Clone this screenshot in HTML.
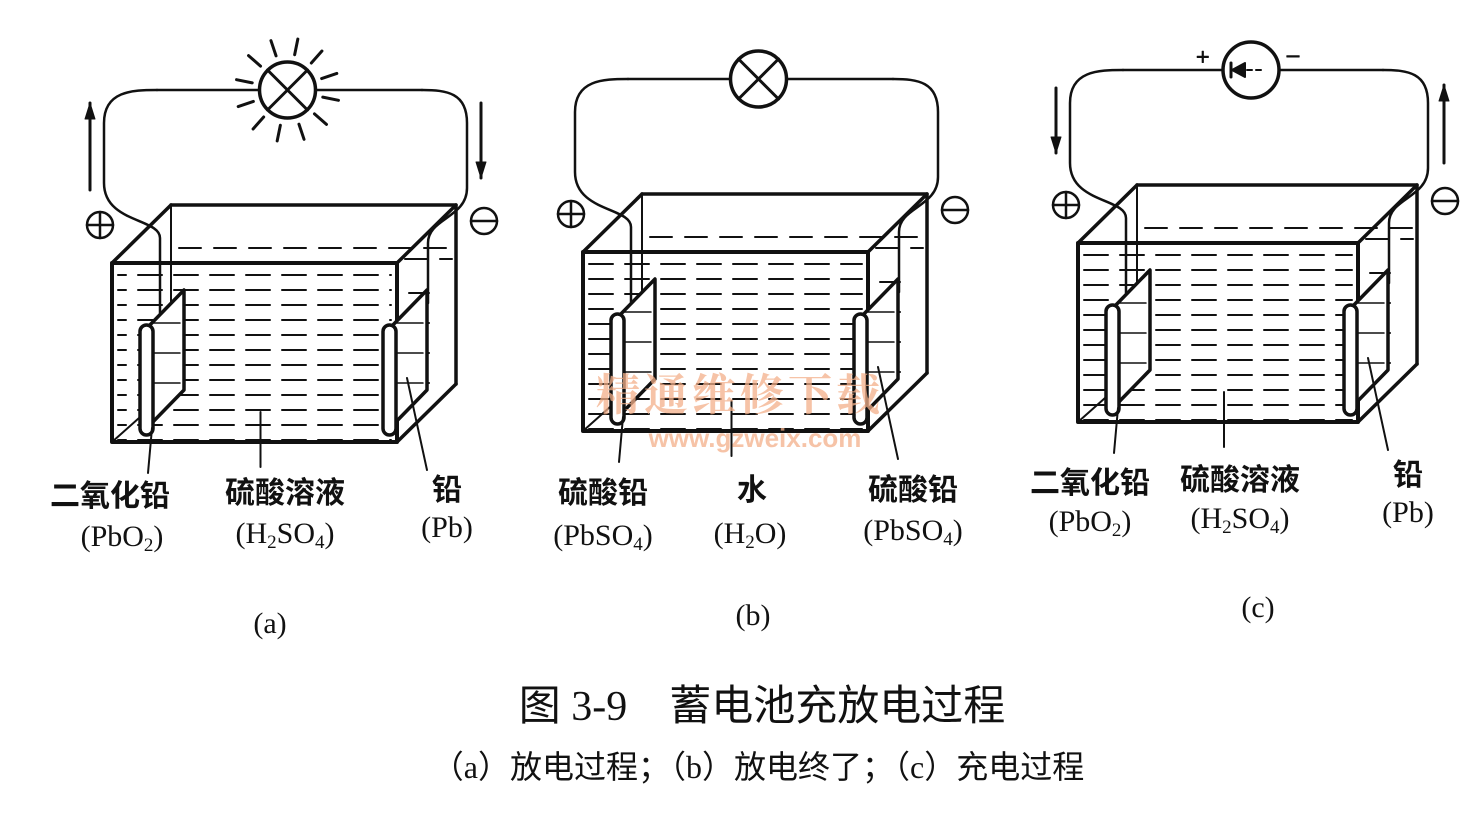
<!DOCTYPE html>
<html><head><meta charset="utf-8"><style>
html,body{margin:0;padding:0;background:#fff;width:1484px;height:824px;overflow:hidden}
svg{display:block}
text{font-family:"Liberation Serif","Noto Serif CJK SC",serif;fill:#111}
.cj{font-family:"Liberation Serif","Noto Sans CJK SC",sans-serif;font-weight:bold}
</style></head><body>
<svg id="s" width="1484" height="824" viewBox="0 0 1484 824" xmlns="http://www.w3.org/2000/svg">
<g id="d" stroke="#111" fill="none" stroke-linecap="round" stroke-linejoin="round"></g>
<text x="740" y="410" text-anchor="middle" style="font-size:44px;fill:#f4b08a;font-family:'Noto Serif CJK SC',serif;font-weight:bold;letter-spacing:4px" opacity="0.75">精通维修下载</text>
<text x="755" y="447" text-anchor="middle" style="font-size:26px;fill:#f4b08a;font-family:'Liberation Sans',sans-serif;font-weight:bold" opacity="0.75">www.gzweix.com</text>

<g font-size="30">
<text x="110" y="506" text-anchor="middle" class="cj">二氧化铅</text>
<text x="122" y="546" text-anchor="middle">(PbO<tspan font-size="19" dy="5">2</tspan><tspan dy="-5">)</tspan></text>
<text x="285" y="503" text-anchor="middle" class="cj">硫酸溶液</text>
<text x="285" y="543" text-anchor="middle">(H<tspan font-size="19" dy="5">2</tspan><tspan dy="-5">SO</tspan><tspan font-size="19" dy="5">4</tspan><tspan dy="-5">)</tspan></text>
<text x="447" y="500" text-anchor="middle" class="cj">铅</text>
<text x="447" y="537" text-anchor="middle">(Pb)</text>

<text x="603" y="503" text-anchor="middle" class="cj">硫酸铅</text>
<text x="603" y="545" text-anchor="middle">(PbSO<tspan font-size="19" dy="5">4</tspan><tspan dy="-5">)</tspan></text>
<text x="752" y="500" text-anchor="middle" class="cj">水</text>
<text x="750" y="543" text-anchor="middle">(H<tspan font-size="19" dy="5">2</tspan><tspan dy="-5">O)</tspan></text>
<text x="913" y="500" text-anchor="middle" class="cj">硫酸铅</text>
<text x="913" y="540" text-anchor="middle">(PbSO<tspan font-size="19" dy="5">4</tspan><tspan dy="-5">)</tspan></text>

<text x="1090" y="493" text-anchor="middle" class="cj">二氧化铅</text>
<text x="1090" y="531" text-anchor="middle">(PbO<tspan font-size="19" dy="5">2</tspan><tspan dy="-5">)</tspan></text>
<text x="1240" y="490" text-anchor="middle" class="cj">硫酸溶液</text>
<text x="1240" y="528" text-anchor="middle">(H<tspan font-size="19" dy="5">2</tspan><tspan dy="-5">SO</tspan><tspan font-size="19" dy="5">4</tspan><tspan dy="-5">)</tspan></text>
<text x="1408" y="485" text-anchor="middle" class="cj">铅</text>
<text x="1408" y="522" text-anchor="middle">(Pb)</text>

<text x="270" y="633" text-anchor="middle">(a)</text>
<text x="753" y="625" text-anchor="middle">(b)</text>
<text x="1258" y="617" text-anchor="middle">(c)</text>
</g>
<text x="762" y="720" text-anchor="middle" font-size="42" class="cj" style="font-weight:normal">图 3-9　蓄电池充放电过程</text>
<text x="758" y="778" text-anchor="middle" font-size="32" class="cj" style="font-weight:normal">（a）放电过程；（b）放电终了；（c）充电过程</text>
</svg>
<script>
var g=document.getElementById('d'),NS='http://www.w3.org/2000/svg';
function el(t,a){var e=document.createElementNS(NS,t);for(var k in a)e.setAttribute(k,a[k]);g.appendChild(e);return e;}
function P(d,w,extra){var a={d:d,'stroke-width':w||3};for(var k in extra)a[k]=extra[k];return el('path',a);}
function cell(ox,oy,W,type){
 var L=ox,T=oy,R=ox+W,B=oy+179,dx=59,dy=-58;
 P('M'+(L+dx)+' '+(T+dy)+'H'+(R+dx)+'V'+(B+dy),3.5);
 P('M'+(L+dx)+' '+(T+dy)+'V'+(T+40),2);
 P('M'+L+' '+T+'L'+(L+dx)+' '+(T+dy),3.5);
 P('M'+R+' '+T+'L'+(R+dx)+' '+(T+dy),3.5);
 P('M'+R+' '+B+'L'+(R+dx)+' '+(B+dy),3.5);
 P('M'+L+' '+B+'L'+(L+45)+' '+(B-40),2);
 P('M'+(L+dx+8)+' '+(T-15)+'H'+(R+dx-4),2,{'stroke-dasharray':'22 13'});
 P('M'+(R+8)+' '+(T-4)+'H'+(R+dx-4),2,{'stroke-dasharray':'22 13'});
 for(var y=T+12;y<B;y+=15){P('M'+(L+6)+' '+y+'H'+(R-6),2,{'stroke-dasharray':'24 12','stroke-dashoffset':(y%3)*8});}
 for(var y=T+30;y<B-30;y+=30){P('M'+(R+12)+' '+y+'H'+(R+dx-14),2,{'stroke-dasharray':'20 14'});}
 el('rect',{x:L,y:T,width:W,height:B-T,'stroke-width':4});
 var lx=L+48,rx=R+31;
 P('M'+lx+' '+(T+50)+'V'+(T-25)+'C'+lx+' '+(T-45)+' '+(L-8)+' '+(T-40)+' '+(L-8)+' '+(T-80)+'V'+(oy-140)+'C'+(L-8)+' '+(oy-172)+' '+(L+20)+' '+(oy-173)+' '+(L+45)+' '+(oy-173),2.5);
 P('M'+rx+' '+(T+40)+'V'+(T-20)+'C'+rx+' '+(T-45)+' '+(R+70)+' '+(T-45)+' '+(R+70)+' '+(T-75)+'V'+(oy-140)+'C'+(R+70)+' '+(oy-170)+' '+(R+50)+' '+(oy-173)+' '+(R+25)+' '+(oy-173),2.5);
 var cx=(L+R)/2+33,cy=oy-173;
 P('M'+(L+45)+' '+cy+'H'+(cx-29)+'M'+(cx+29)+' '+cy+'H'+(R+25),2.5);
 el('circle',{cx:cx,cy:cy,r:28,'stroke-width':3.5,fill:'#fff'});
 if(type!='c'){P('M'+(cx-20)+' '+(cy-20)+'L'+(cx+20)+' '+(cy+20)+'M'+(cx+20)+' '+(cy-20)+'L'+(cx-20)+' '+(cy+20),3);}
 if(type=='a'){for(var i=0;i<12;i++){var a=i*Math.PI/6+0.2;P('M'+(cx+36*Math.cos(a))+' '+(cy+36*Math.sin(a))+'L'+(cx+52*Math.cos(a))+' '+(cy+52*Math.sin(a)),3);}}
 if(type=='c'){P('M'+(cx-20)+' '+(cy-7)+'V'+(cy+7),3);el('path',{d:'M'+(cx-19)+' '+cy+'L'+(cx-6)+' '+(cy-7)+'V'+(cy+7)+'Z',fill:'#111','stroke-width':2});P('M'+(cx-4)+' '+cy+'H'+(cx+14),2,{'stroke-dasharray':'5 4'});
  el('text',{x:cx-55,y:cy-5,'font-size':'24'}).textContent='+';el('text',{x:cx+36,y:cy-8,'font-size':'24'}).textContent='–';}
 function plate(x){P('M'+x+' '+(T+66)+'L'+(x+38)+' '+(T+27)+'V'+(T+127)+'L'+x+' '+(T+166)+'Z',3.5,{fill:'#fff'});
  for(var yy=T+60;yy<T+150;yy+=30)P('M'+(x+6)+' '+(yy)+'H'+(x+34),1.5);
  el('rect',{x:x-6,y:T+62,width:13,height:110,rx:6.5,'stroke-width':3.5,fill:'#fff'});}
 plate(L+34);plate(R-8);
 P('M'+(L+40)+' '+(T+165)+'L'+(L+36)+' '+(T+210),2);
 P('M'+((L+R)/2+6)+' '+(B-30)+'V'+(B+25),2);
 P('M'+(R+10)+' '+(T+115)+'L'+(R+30)+' '+(B+28),2);
 el('circle',{cx:L-12,cy:T-38,r:13,'stroke-width':2.5});P('M'+(L-25)+' '+(T-38)+'H'+(L+1)+'M'+(L-12)+' '+(T-51)+'V'+(T-25),2.5);
 el('circle',{cx:R+87,cy:T-42,r:13,'stroke-width':2.5});P('M'+(R+74)+' '+(T-42)+'H'+(R+100),2.5);
 function arr(x,y1,y2){P('M'+x+' '+y1+'V'+y2,3);var s=y2>y1?1:-1;el('path',{d:'M'+(x-5)+' '+(y2-s*16)+'L'+x+' '+y2+'L'+(x+5)+' '+(y2-s*16)+'Z',fill:'#111','stroke-width':1});}
 if(type=='a'){arr(L-22,T-73,T-160);arr(R+84,T-160,T-85);}
 if(type=='c'){arr(L-22,T-155,T-90);arr(R+86,T-80,T-158);}
}
cell(112,263,285,'a');
cell(583,252,285,'b');
cell(1078,243,280,'c');
</script>
</body></html>
